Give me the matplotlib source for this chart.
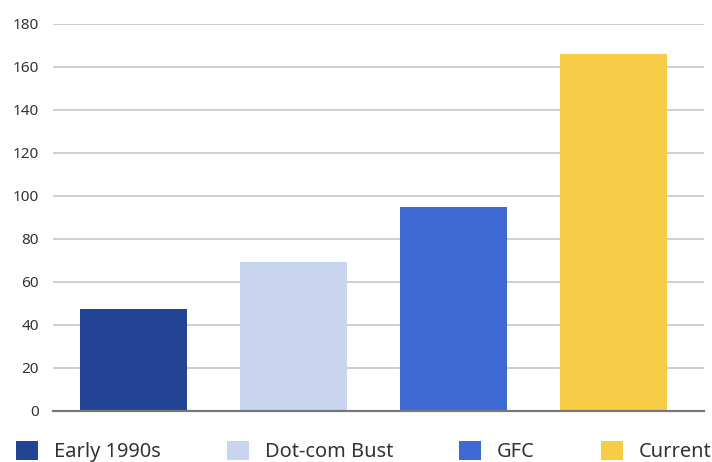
import matplotlib
matplotlib.use("Agg")
import matplotlib.pyplot as plt
from matplotlib.patches import Patch

categories = ["Early 1990s", "Dot-com Bust", "GFC", "Current"]
values = [47.5, 69, 95, 166]
colors = ["#234394", "#C9D5EF", "#3F6AD3", "#F7CD48"]
yticks = [0, 20, 40, 60, 80, 100, 120, 140, 160, 180]

plt.rcParams["font.family"] = ["Noto Sans", "DejaVu Sans"]

W, H = 712, 462
fig = plt.figure(figsize=(W / 100, H / 100), dpi=100)
ax = fig.add_axes([53 / W, 1 - 410.7 / H, (704 - 53) / W, (410.7 - 24) / H])

x = list(range(len(categories)))
ax.bar(x, values, width=107 / 160, color=colors, zorder=3)
ax.set_xlim(-0.5, 3.5 + 10.5 / 160)
ax.set_ylim(0, 180)
ax.set_yticks(yticks)
ax.set_yticklabels([str(v) for v in yticks], fontsize=11, color="#333333")
ax.set_xticks([])
ax.tick_params(axis="y", length=0, pad=10)
ax.grid(axis="y", color="#cccccc", linewidth=1.3, zorder=0)
for s in ["top", "right", "left"]:
    ax.spines[s].set_visible(False)
ax.spines["bottom"].set_color("#777777")
ax.spines["bottom"].set_linewidth(1.6)
ax.spines["bottom"].set_zorder(4)

handles = [Patch(facecolor=c, edgecolor="none") for c in colors]
fig.legend(handles, categories, loc="upper left", bbox_to_anchor=(16 / W, 1 - 441 / H),
           ncol=4, frameon=False, fontsize=14.4, handlelength=1.1, handleheight=1.1,
           handletextpad=0.8, columnspacing=3.3, borderaxespad=0, borderpad=0,
           labelcolor="#333333")

fig.savefig("out.png", dpi=100)
